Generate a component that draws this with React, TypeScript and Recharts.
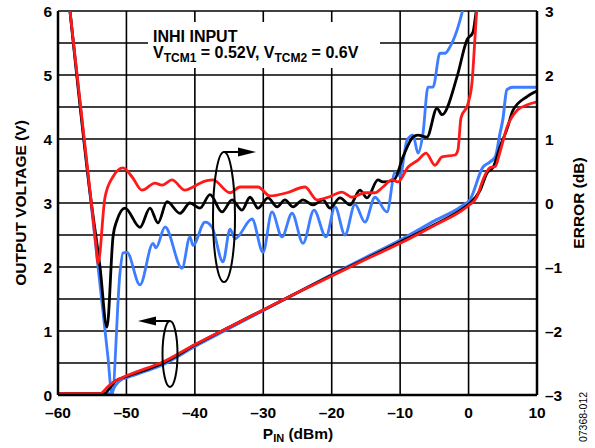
import { LineChart, Line, XAxis, YAxis, CartesianGrid } from 'recharts'

// x axis: input power (dBm)
const xTicks = [-60, -50, -40, -30, -20, -10, 0, 10]
const voltTicks = [0, 0.5, 1, 1.5, 2, 2.5, 3, 3.5, 4, 4.5, 5, 5.5, 6]
const errTicks = [-3, -2, -1, 0, 1, 2, 3]

// output voltage curves (left axis, V)
const blackVoltP = [-60, -53.2, -52.5, -51.6, -50, -47, -45, -40, -35, -30, -25, -20, -15, -10, -5, -1, 0, 1.7, 2.7, 3.6, 4.6, 5.6, 6.5, 8.5, 10]
const blackVolt = [0.02, 0.02, 0.1, 0.22, 0.29, 0.4, 0.48, 0.78, 1.06, 1.33, 1.6, 1.87, 2.13, 2.39, 2.66, 2.9, 2.98, 3.2, 3.47, 3.56, 3.88, 4.15, 4.45, 4.66, 4.75]

const redVoltP = [-60, -53.9, -52.7, -51.9, -50, -47, -45, -40, -35, -30, -25, -20, -15, -10, -5, -1, 0, 1.2, 2.1, 3.1, 3.9, 4.6, 5.6, 7.1, 8.5, 10]
const redVolt = [0.02, 0.02, 0.13, 0.2, 0.3, 0.42, 0.5, 0.79, 1.06, 1.33, 1.6, 1.86, 2.12, 2.37, 2.65, 2.88, 2.96, 3.09, 3.36, 3.55, 3.57, 3.8, 4.18, 4.45, 4.53, 4.58]

const blueVoltP = [-60, -52.4, -51.6, -50.6, -50, -47, -45, -40, -35, -30, -25, -20, -15, -10, -5, -1, 0.2, 2.1, 3.1, 3.9, 4.6, 5.0, 5.6, 6.5, 10]
const blueVolt = [0.02, 0.02, 0.15, 0.25, 0.27, 0.38, 0.46, 0.76, 1.04, 1.32, 1.6, 1.88, 2.15, 2.42, 2.72, 2.95, 3.05, 3.56, 3.64, 3.72, 4.09, 4.3, 4.77, 4.81, 4.81]

// error curves (right axis, dB)
const blackErrP = [-58.25, -55.32, -53.86, -52.84, -51.96, -51.38, -50.21, -48.02, -46.56, -45.39, -44.07, -42.17, -40.71, -39.25, -37.79, -36.03, -34.57, -33.11, -31.94, -30.77, -29.31, -27.99, -26.83, -25.66, -24.2, -22.74, -21.27, -20.25, -18.79, -17.33, -15.87, -14.85, -13.24, -12.51, -10.9, -9.58, -8.12, -7.39, -6.08, -4.62, -3.88, -1.69, -0.23, 0.65, 0.94, 1.23]
const blackErr = [3.0, 0.16, -1.0, -1.94, -0.53, -0.27, -0.08, -0.38, -0.08, -0.31, 0.02, -0.16, 0.0, -0.08, 0.13, -0.14, 0.05, -0.11, 0.09, -0.08, 0.08, -0.06, 0.05, -0.06, 0.05, -0.03, 0.05, -0.08, 0.08, -0.03, 0.2, 0.08, 0.36, 0.33, 0.36, 0.72, 1.03, 1.06, 1.03, 1.48, 1.38, 1.97, 2.55, 2.67, 2.86, 3.09]

const redErrP = [-58.25, -55.32, -54.45, -54.15, -53.13, -51.96, -50.5, -49.19, -47.72, -45.83, -44.8, -43.34, -41.44, -40.27, -39.25, -37.35, -34.86, -33.4, -30.77, -29.02, -26.54, -23.9, -22.15, -20.54, -18.5, -17.04, -15.14, -13.68, -12.51, -11.19, -10.31, -8.85, -7.39, -6.22, -4.91, -3.88, -1.98, -1.55, -1.11, -0.09, 0.5, 0.94, 1.23]
const redErr = [3.0, 0.19, -0.66, -0.94, 0.09, 0.41, 0.55, 0.41, 0.2, 0.31, 0.28, 0.36, 0.2, 0.25, 0.31, 0.36, 0.16, 0.25, 0.25, 0.11, 0.16, 0.25, 0.05, 0.09, 0.17, 0.09, 0.16, 0.16, 0.25, 0.36, 0.33, 0.56, 0.67, 0.78, 0.59, 0.72, 0.75, 0.83, 1.33, 1.55, 1.88, 2.59, 3.09]

const blueErrP = [-58.25, -55.32, -52.69, -52.11, -50.94, -50.5, -49.92, -48.02, -46.12, -45.68, -44.36, -41.88, -40.71, -40.27, -38.52, -37.5, -35.89, -34.86, -34.13, -31.65, -30.04, -28.73, -27.27, -25.8, -24.2, -22.59, -20.84, -19.52, -18.06, -16.6, -15.14, -13.68, -11.92, -10.75, -10.02, -9.0, -8.12, -7.39, -6.66, -5.93, -5.2, -4.18, -3.45, -2.72, -1.69, -0.96, -0.5]
const blueErr = [3.0, 0.14, -2.42, -3.0, -1.09, -0.78, -0.77, -1.28, -0.63, -0.7, -0.375, -1.02, -0.53, -0.66, -0.3, -0.375, -0.92, -0.41, -0.56, -0.25, -0.77, -0.14, -0.53, -0.16, -0.63, -0.11, -0.53, -0.06, -0.5, -0.02, -0.3, 0.09, -0.14, 0.48, 0.42, 0.98, 1.06, 0.78, 1.09, 1.81, 1.81, 2.34, 2.34, 2.44, 2.7, 2.97, 3.17]

const zip = (xs: number[], ys: number[]) => xs.map((p, i) => ({ p, y: ys[i] }))

const RED = '#FF1A1A'
const BLUE = '#3D7DFF'
const BLACK = '#000000'
const FONT = '"Liberation Sans", Arial, sans-serif'
const LW = 2.8

const dash = (v: number) => (v < 0 ? `\u2013${Math.abs(v)}` : `${v}`)
const tickStyle = { fontSize: 15.5, fontWeight: 700, fill: '#000', fontFamily: FONT }

export default function App() {
  const W = 595
  const H = 448
  return (
    <div style={{ position: 'absolute', left: 0, top: 0, width: W, height: H, background: '#fff', fontFamily: FONT }}>
      <LineChart width={W} height={H} margin={{ top: 11, right: 0, bottom: 0, left: 0 }}>
        <CartesianGrid yAxisId="left" stroke="#000" strokeWidth={1.6} strokeOpacity={1} />
        <XAxis
          type="number"
          dataKey="p"
          domain={[-60, 10]}
          ticks={xTicks}
          allowDataOverflow
          height={53}
          tickLine={false}
          tickSize={6}
          tickMargin={6}
          axisLine={{ stroke: '#000', strokeWidth: 2.5 }}
          tick={tickStyle}
          tickFormatter={dash}
          interval={0}
        />
        <YAxis
          yAxisId="left"
          type="number"
          domain={[0, 6]}
          ticks={voltTicks}
          allowDataOverflow
          width={58}
          tickLine={false}
          tickSize={4}
          axisLine={{ stroke: '#000', strokeWidth: 2.5 }}
          tick={tickStyle}
          tickFormatter={(v: number) => (Number.isInteger(v) ? `${v}` : '')}
          interval={0}
        />
        <YAxis
          yAxisId="right"
          orientation="right"
          type="number"
          domain={[-3, 3]}
          ticks={errTicks}
          allowDataOverflow
          width={58}
          tickLine={false}
          tickSize={6}
          axisLine={{ stroke: '#000', strokeWidth: 2.5 }}
          tick={tickStyle}
          tickFormatter={dash}
          interval={0}
        />
        <Line yAxisId="right" data={zip(blueErrP, blueErr)} dataKey="y" type="monotone" stroke={BLUE} strokeWidth={LW} dot={false} isAnimationActive={false} />
        <Line yAxisId="right" data={zip(blackErrP, blackErr)} dataKey="y" type="monotone" stroke={BLACK} strokeWidth={LW} dot={false} isAnimationActive={false} />
        <Line yAxisId="right" data={zip(redErrP, redErr)} dataKey="y" type="monotone" stroke={RED} strokeWidth={LW} dot={false} isAnimationActive={false} />
        <Line yAxisId="left" data={zip(blueVoltP, blueVolt)} dataKey="y" type="monotone" stroke={BLUE} strokeWidth={3} dot={false} isAnimationActive={false} />
        <Line yAxisId="left" data={zip(blackVoltP, blackVolt)} dataKey="y" type="monotone" stroke={BLACK} strokeWidth={LW} dot={false} isAnimationActive={false} />
        <Line yAxisId="left" data={zip(redVoltP, redVolt)} dataKey="y" type="monotone" stroke={RED} strokeWidth={LW} dot={false} isAnimationActive={false} />
      </LineChart>

      {/* titles and annotations */}
      <svg width={W} height={H} style={{ position: 'absolute', left: 0, top: 0, pointerEvents: 'none' }} fontFamily={FONT}>
        <rect x={148} y={22} width={232} height={46} fill="#fff" />
        <text x={153} y={42} fontSize={16} fontWeight={700}>INHI INPUT</text>
        <text x={153} y={58} fontSize={16} fontWeight={700}>
          V<tspan fontSize={12} dy={4}>TCM1</tspan>
          <tspan dy={-4}> = 0.52V, V</tspan>
          <tspan fontSize={12} dy={4}>TCM2</tspan>
          <tspan dy={-4}> = 0.6V</tspan>
        </text>

        <ellipse cx={224} cy={217} rx={11} ry={65} fill="none" stroke="#000" strokeWidth={2} />
        <line x1={224} y1={152} x2={240} y2={152} stroke="#000" strokeWidth={2} />
        <polygon points="238,147.5 256,152 238,156.5" fill="#000" />

        <ellipse cx={170} cy={354} rx={7.5} ry={33} fill="none" stroke="#000" strokeWidth={2} />
        <line x1={170} y1={321} x2={154} y2={321} stroke="#000" strokeWidth={2} />
        <polygon points="156,316.5 138,321 156,325.5" fill="#000" />

        <text x={0} y={0} transform="translate(26,203) rotate(-90)" textAnchor="middle" fontSize={15.5} fontWeight={700}>
          OUTPUT VOLTAGE (V)
        </text>
        <text x={0} y={0} transform="translate(584,203) rotate(-90)" textAnchor="middle" fontSize={15.5} fontWeight={700}>
          ERROR (dB)
        </text>
        <text x={298} y={439} textAnchor="middle" fontSize={15.5} fontWeight={700}>
          P<tspan fontSize={11} dy={3}>IN</tspan>
          <tspan dy={-3}> (dBm)</tspan>
        </text>
        <text x={0} y={0} transform="translate(587,417) rotate(-90)" textAnchor="middle" fontSize={10.5}>
          07368-012
        </text>
      </svg>
    </div>
  )
}
